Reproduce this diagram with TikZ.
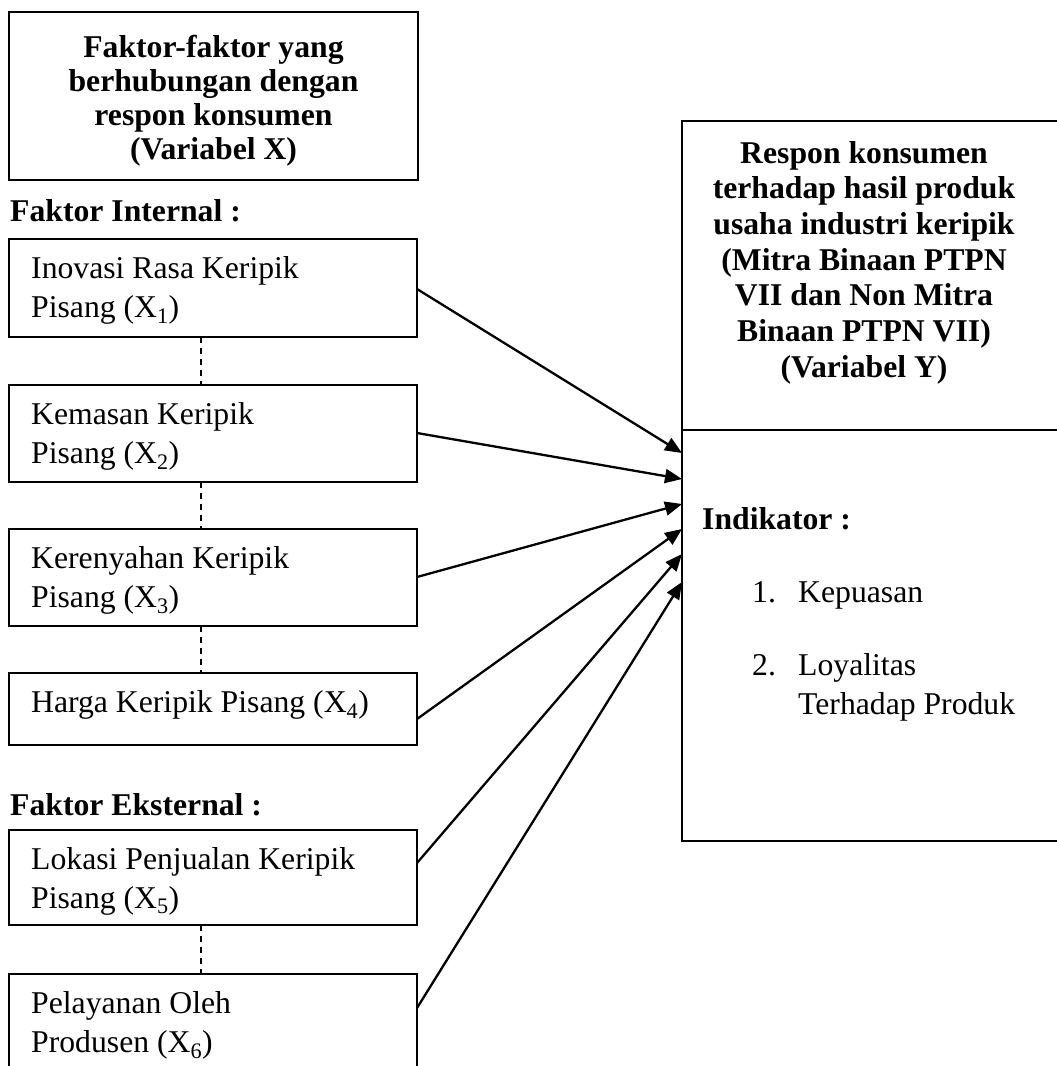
\documentclass[tikz,border=0pt]{standalone}
\usepackage{fontspec}
\setmainfont{Liberation Serif}
\usetikzlibrary{arrows.meta}
\begin{document}
\begin{tikzpicture}[x=1pt,y=-1pt,
  box/.style={draw, line width=2pt, rectangle, inner sep=0pt, outer sep=0pt, anchor=north west},
  ltxt/.style={inner sep=0pt, anchor=base west, font=\fontsize{31.7}{39}\selectfont},
  btxt/.style={inner sep=0pt, anchor=base west, font=\bfseries\fontsize{31.7}{35}\selectfont},
  ctxt/.style={inner sep=0pt, anchor=base, align=center},
  dashline/.style={line width=1.5pt, dash pattern=on 6pt off 5pt},
  arr/.style={line width=2.3pt, -{Triangle[length=17pt,width=14pt]}}
]
\useasboundingbox (0,0) rectangle (1057,1066);
\clip (0,0) rectangle (1057,1066);

% left heading box
\node[box, minimum width=409pt, minimum height=168pt] (head) at (9,12) {};
\node[ctxt, font=\bfseries\fontsize{31.7}{34}\selectfont] (headtxt) at (213.5,57)
  {\begin{tabular}[t]{@{}c@{}}Faktor-faktor yang\\berhubungan dengan\\respon konsumen\\(Variabel X)\end{tabular}};

\node[btxt] (intl) at (10,221) {Faktor Internal :};

% factor boxes
\node[box, minimum width=408pt, minimum height=98pt] (x1) at (9,239) {};
\node[box, minimum width=408pt, minimum height=97pt] (x2) at (9,385) {};
\node[box, minimum width=408pt, minimum height=97pt] (x3) at (9,529) {};
\node[box, minimum width=408pt, minimum height=72pt] (x4) at (9,673) {};
\node[btxt] (extl) at (10,815) {Faktor Eksternal :};
\node[box, minimum width=408pt, minimum height=95pt] (x5) at (9,830) {};
\node[box, minimum width=408pt, minimum height=130pt] (x6) at (9,974) {};

\node[ltxt] (x1txt) at (31,278) {\begin{tabular}[t]{@{}l@{}}Inovasi Rasa Keripik\\Pisang (X\textsubscript{1})\end{tabular}};
\node[ltxt] (x2txt) at (31,424) {\begin{tabular}[t]{@{}l@{}}Kemasan Keripik\\Pisang (X\textsubscript{2})\end{tabular}};
\node[ltxt] (x3txt) at (31,568) {\begin{tabular}[t]{@{}l@{}}Kerenyahan Keripik\\Pisang (X\textsubscript{3})\end{tabular}};
\node[ltxt] (x4txt) at (31,712) {Harga Keripik Pisang (X\textsubscript{4})};
\node[ltxt] (x5txt) at (31,869) {\begin{tabular}[t]{@{}l@{}}Lokasi Penjualan Keripik\\Pisang (X\textsubscript{5})\end{tabular}};
\node[ltxt] (x6txt) at (31,1013) {\begin{tabular}[t]{@{}l@{}}Pelayanan Oleh\\Produsen (X\textsubscript{6})\end{tabular}};

% dashed connectors
\draw[dashline] ([xshift=-12pt]x1.south) -- ([xshift=-12pt]x2.north);
\draw[dashline] ([xshift=-12pt]x2.south) -- ([xshift=-12pt]x3.north);
\draw[dashline] ([xshift=-12pt]x3.south) -- ([xshift=-12pt]x4.north);
\draw[dashline] ([xshift=-12pt]x5.south) -- ([xshift=-12pt]x6.north);

% right box
\node[box, minimum width=430pt, minimum height=720pt] (Y) at (682,121) {};
\draw[line width=1.8pt] ([yshift=-309pt]Y.north west) -- ([yshift=-309pt]Y.north east);
\node[ctxt, font=\bfseries\fontsize{31.7}{35.7}\selectfont] (ytxt) at (864,163)
  {\begin{tabular}[t]{@{}c@{}}Respon konsumen\\terhadap hasil produk\\usaha industri keripik\\(Mitra Binaan PTPN\\VII dan Non Mitra\\Binaan PTPN VII)\\(Variabel Y)\end{tabular}};
\node[btxt] (ind) at (702,529) {Indikator :};
\node[ltxt] (n1) at (752,602) {1.};
\node[ltxt] (k1) at (798,602) {Kepuasan};
\node[ltxt] (n2) at (752,675) {2.};
\node[ltxt] (k2) at (798,675) {\begin{tabular}[t]{@{}l@{}}Loyalitas\\Terhadap Produk\end{tabular}};

% arrow targets on Y
\coordinate (t1) at (Y.west |- 0,453);
\coordinate (t2) at (Y.west |- 0,479);
\coordinate (t3) at (Y.west |- 0,504);
\coordinate (t4) at (Y.west |- 0,529);
\coordinate (t5) at (Y.west |- 0,554);
\coordinate (t6) at (Y.west |- 0,582);

\draw[arr] (x1.east |- 0,289) -- (t1);
\draw[arr] (x2.east |- 0,433) -- (t2);
\draw[arr] (x3.east |- 0,577) -- (t3);
\draw[arr] (x4.east |- 0,719) -- (t4);
\draw[arr] (x5.east |- 0,863) -- (t5);
\draw[arr] (x6.east |- 0,1008) -- (t6);
\end{tikzpicture}
\end{document}
